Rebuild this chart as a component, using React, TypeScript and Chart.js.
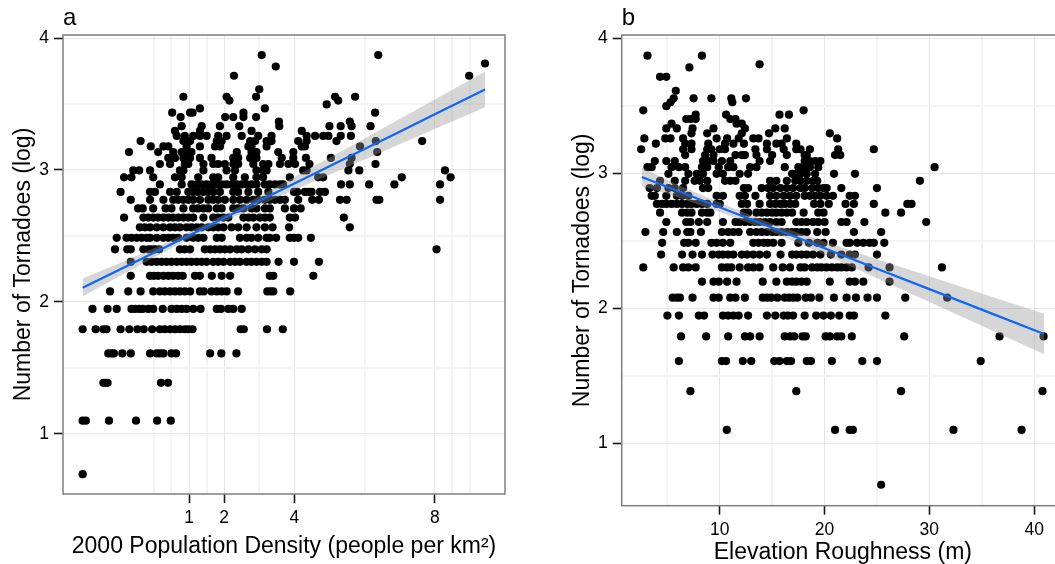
import React, { useEffect, useRef } from 'react'
import { Chart, registerables } from 'chart.js'

Chart.register(...registerables)

const FONT = '"Liberation Sans", Arial, sans-serif'

type Row = [number, number[]]

// panel a: tornado counts are discrete, so the points come in rows of log(count)
const densityRows: Row[] = [
  [0.693, [-2.03]],
  [1.099, [-2.03, -1.94, -1.28, -0.51, 0.09, 0.48]],
  [1.386, [-1.44, -1.37, -1.32, 0.2, 0.4]],
  [1.609, [-1.3, -1.21, -1.14, -0.9, -0.66, -0.11, 0.08, 0.17, 0.27, 0.5, 0.63, 1.6, 1.92, 2.35]],
  [1.792, [-2.03, -1.66, -1.44, -1.35, -0.95, -0.7, -0.47, -0.29, -0.05, 0.17, 0.31, 0.46, 0.6, 0.74, 0.88, 0.98, 1.1, 2.47, 2.56, 3.22, 3.67]],
  [1.946, [-1.75, -1.32, -1.06, -0.64, -0.54, -0.42, -0.32, -0.16, -0.02, 0.25, 0.5, 0.65, 0.79, 0.93, 1.12, 1.33, 1.79, 1.91, 2.12, 2.26, 2.5]],
  [2.079, [-1.25, -0.73, -0.38, -0.02, 0.17, 0.31, 0.46, 0.6, 0.74, 0.88, 1.03, 1.31, 1.42, 1.64, 1.79, 1.93, 2.07, 2.4, 3.23, 3.32, 3.4, 3.88]],
  [2.197, [-0.66, -0.11, 0, 0.12, 0.27, 0.41, 0.55, 0.69, 0.82, 1.17, 1.31, 1.65, 1.93, 2.17, 3.3, 3.4, 4.54]],
  [2.303, [-0.66, -0.21, -0.07, 0.08, 0.22, 0.36, 0.5, 0.65, 0.79, 0.93, 1.07, 1.22, 1.36, 1.5, 1.69, 1.83, 1.98, 2.17, 2.31, 2.45, 2.64, 2.78, 2.92, 3.07, 3.21, 3.55, 3.99, 4.7]],
  [2.398, [-1.11, -0.76, -0.66, -0.3, -0.16, -0.07, 0.03, 0.15, 0.74, 0.88, 1.03, 1.45, 1.6, 1.74, 1.88, 2.02, 2.17, 2.36, 2.5, 2.69, 2.88, 3.07, 3.21, 8.05]],
  [2.485, [-1.06, -0.78, -0.64, -0.49, -0.35, -0.21, -0.11, 0.08, 0.27, 0.41, 0.55, 0.69, 0.93, 1.12, 1.26, 1.41, 1.79, 1.93, 2.45, 2.64, 2.78, 2.97, 3.21, 3.3, 3.48, 3.87, 3.99, 4.11, 4.47]],
  [2.565, [-0.4, -0.26, -0.11, 0.08, 0.27, 0.46, 0.6, 0.74, 0.93, 1.07, 1.22, 1.36, 1.55, 1.69, 1.83, 1.98, 2.21, 2.4, 2.64, 2.92, 3.16, 3.38, 3.85, 5.58]],
  [2.639, [-0.85, -0.3, -0.16, -0.02, 0.12, 0.27, 0.41, 0.55, 0.69, 0.84, 0.98, 1.12, 1.41, 1.69, 1.83, 1.98, 2.12, 2.55, 2.69, 2.83, 3.02, 3.16, 3.3, 3.87, 4.02, 5.41]],
  [2.708, [-0.45, -0.32, -0.02, 0.33, 0.5, 0.84, 1.12, 1.26, 1.41, 1.55, 1.79, 1.93, 2.26, 2.4, 2.55, 2.78, 2.92, 3.16, 3.3, 3.73, 3.99, 4.18]],
  [2.773, [-0.66, -0.11, 0.27, 0.55, 0.69, 0.84, 0.98, 1.12, 1.31, 1.55, 1.69, 1.83, 2.02, 2.26, 2.45, 2.64, 2.83, 2.97, 3.16, 3.3, 3.45, 3.59, 3.73, 4.11, 4.51, 4.7, 5.3, 5.49, 6.34, 6.42, 8.15]],
  [2.833, [-0.95, -0.11, 0.03, 0.46, 0.65, 0.98, 1.12, 1.26, 1.41, 1.55, 1.69, 1.88, 2.26, 2.4, 2.69, 2.97, 3.26, 3.99, 4.08, 4.3, 4.4, 4.49, 4.73, 4.87]],
  [2.89, [0.17, 0.79, 1.07, 1.22, 1.36, 1.5, 1.64, 1.79, 1.93, 2.07, 2.21, 2.36, 2.5, 2.64, 2.78, 2.92, 3.16, 3.3, 3.45, 3.59, 3.68, 5.33, 5.58, 6.13, 6.85, 8.15]],
  [2.944, [-0.85, -0.64, -0.02, 0.6, 0.79, 1.26, 1.69, 1.83, 2.26, 2.59, 2.92, 3.11, 3.87, 4.68, 4.82, 7.06, 8.45]],
  [2.996, [-0.59, -0.42, -0.11, 0.74, 0.84, 1.41, 2.07, 2.31, 2.92, 3.11, 3.21, 4.25, 4.35, 5.54, 5.85, 8.29]],
  [3.045, [0.17, 0.46, 0.88, 0.98, 1.41, 1.69, 1.83, 2.02, 2.26, 2.4, 2.83, 3.11, 3.26, 3.59, 3.83, 4.02, 4.43, 5.58, 6.31]],
  [3.091, [0.41, 0.6, 0.84, 1.03, 1.31, 1.64, 2.26, 2.4, 2.74, 2.92, 3.64, 3.97, 4.33, 5.04, 5.63]],
  [3.135, [-0.71, 0.12, 0.55, 0.79, 0.93, 1.07, 2.36, 2.78, 2.92, 3.54, 3.97, 6.36]],
  [3.178, [-0.09, 0.27, 0.41, 0.93, 1.31, 1.74, 1.88, 2.69, 2.78, 3.21, 4.21, 4.3, 5.87]],
  [3.219, [-0.38, 0.84, 1.03, 1.79, 1.93, 2.74, 2.88, 3.21, 3.35, 4.11, 4.35, 5.2, 6.32, 7.64]],
  [3.258, [0.65, 0.88, 1.12, 1.31, 1.5, 1.83, 2.07, 2.5, 2.97, 3.35, 4.35, 4.59, 4.82, 4.97, 5.32, 5.61]],
  [3.296, [0.6, 1.31, 2.78, 4.21]],
  [3.332, [0.79, 1.36, 1.88, 2.43, 3.57, 5.0, 5.32, 5.63, 6.17]],
  [3.367, [3.56, 5.58]],
  [3.401, [0.76, 2.03, 2.26, 2.55, 2.91]],
  [3.434, [0.52, 1.03, 1.1, 2.55, 6.3]],
  [3.466, [1.31, 3.16]],
  [3.497, [4.92]],
  [3.526, [2.15, 5.25]],
  [3.555, [0.84, 2.07, 2.91, 5.16, 5.73]],
  [3.611, [3.0]],
  [3.714, [2.28, 8.98]],
  [3.784, [3.47]],
  [3.807, [9.43]],
  [3.871, [3.07, 6.39]],
]

const densityFitX = [-2.03, -1, 0, 1, 2, 3, 4, 5, 6, 7, 8, 9.43]
const densityFitY = [2.106, 2.241, 2.372, 2.503, 2.635, 2.766, 2.897, 3.028, 3.159, 3.29, 3.422, 3.61]
const densityFitHigh = [2.176, 2.29, 2.407, 2.529, 2.661, 2.801, 2.946, 3.092, 3.239, 3.386, 3.534, 3.745]
const densityFitLow = [2.04, 2.192, 2.337, 2.477, 2.609, 2.731, 2.848, 2.964, 3.079, 3.194, 3.31, 3.475]

// panel b
const roughnessRows: Row[] = [
  [0.693, [25.4]],
  [1.099, [10.67, 21.0, 22.4, 22.7, 32.3, 38.8]],
  [1.386, [7.2, 17.3, 27.3, 40.8]],
  [1.609, [6.1, 10.2, 10.6, 12.2, 13.0, 15.2, 15.7, 16.4, 16.8, 18.3, 18.7, 20.7, 23.6, 25.0, 34.9]],
  [1.792, [6.3, 8.7, 10.8, 12.4, 12.9, 13.8, 16.2, 16.7, 17.1, 17.9, 18.2, 20.1, 20.5, 21.2, 21.6, 22.6, 27.6, 36.7, 40.9]],
  [1.946, [5.0, 6.1, 8.0, 8.5, 10.3, 10.8, 11.3, 11.8, 12.7, 14.5, 15.3, 16.1, 16.5, 17.0, 18.1, 19.2, 19.9, 20.6, 21.4, 22.4, 22.8, 25.8]],
  [2.079, [5.5, 5.9, 6.2, 7.4, 9.4, 9.9, 11.0, 11.5, 12.4, 14.1, 14.5, 14.9, 15.5, 16.2, 16.6, 17.0, 17.4, 18.2, 18.7, 19.5, 20.9, 22.1, 23.0, 24.1, 25.0, 27.7, 31.7]],
  [2.197, [8.3, 9.4, 9.9, 10.7, 11.6, 14.1, 15.4, 16.4, 16.9, 17.3, 17.8, 18.3, 20.5, 22.4, 22.9, 23.7, 26.2]],
  [2.303, [2.7, 5.6, 6.5, 7.0, 7.7, 10.2, 10.7, 11.1, 11.9, 12.7, 13.2, 13.8, 15.1, 16.0, 16.7, 17.7, 18.1, 18.8, 19.3, 19.7, 20.2, 20.7, 21.2, 21.6, 22.1, 22.6, 24.2, 26.2, 31.2]],
  [2.398, [4.4, 6.4, 7.4, 8.3, 9.3, 9.9, 10.3, 10.8, 11.3, 12.1, 12.6, 13.2, 13.8, 14.5, 15.8, 16.9, 17.3, 17.8, 18.3, 18.9, 19.6, 20.6, 21.6, 22.4, 22.9, 25.0]],
  [2.485, [4.5, 6.6, 7.0, 7.7, 9.2, 9.7, 10.3, 11.0, 13.2, 13.7, 14.2, 14.6, 15.1, 15.9, 17.5, 18.5, 19.3, 19.9, 20.8, 22.1, 22.4, 23.1, 23.7, 24.3, 24.7, 25.7]],
  [2.565, [2.9, 4.6, 5.9, 6.9, 7.2, 8.2, 10.2, 10.8, 11.3, 11.8, 12.9, 13.5, 14.0, 14.5, 15.0, 15.4, 15.9, 16.4, 16.9, 17.3, 17.8, 18.3, 19.3, 20.1, 22.8, 25.4]],
  [2.639, [4.9, 6.8, 7.2, 8.0, 8.8, 10.3, 11.5, 11.9, 12.4, 12.9, 13.4, 13.8, 14.3, 14.8, 15.4, 15.9, 17.3, 17.8, 18.3, 18.9, 19.4, 20.0, 21.6, 22.1, 23.8, 29.7]],
  [2.708, [4.3, 6.4, 6.9, 7.3, 8.3, 8.8, 9.1, 12.3, 12.7, 13.5, 14.0, 14.5, 15.0, 15.4, 15.9, 16.4, 16.9, 18.0, 19.4, 19.9, 22.4, 25.8, 27.3]],
  [2.773, [4.0, 4.5, 4.9, 5.4, 5.9, 6.4, 6.9, 7.3, 7.8, 8.3, 8.8, 9.7, 10.0, 12.1, 12.6, 13.8, 14.8, 15.3, 15.8, 16.2, 16.7, 17.2, 19.0, 19.6, 20.4, 22.0, 22.8, 24.7, 27.9, 28.3]],
  [2.833, [3.5, 3.8, 4.9, 5.9, 6.4, 7.0, 9.7, 10.3, 11.9, 12.4, 13.4, 14.8, 15.4, 16.1, 16.7, 17.3, 18.1, 18.6, 19.1, 19.6, 20.2, 20.8, 22.4, 22.9]],
  [2.89, [3.3, 4.0, 5.1, 5.7, 6.5, 8.4, 8.9, 12.3, 12.7, 14.0, 14.6, 15.1, 15.8, 16.4, 17.0, 17.7, 18.1, 18.8, 19.4, 19.9, 20.2, 21.6, 25.0]],
  [2.944, [4.3, 5.7, 6.7, 7.6, 8.1, 8.8, 10.5, 11.0, 11.5, 14.8, 15.4, 16.4, 17.2, 17.7, 18.3, 18.9, 19.3, 29.1]],
  [2.996, [5.1, 7.0, 7.8, 8.4, 9.7, 10.3, 11.9, 12.7, 16.9, 17.3, 17.7, 18.3, 19.1, 20.9, 22.9]],
  [3.045, [3.1, 3.5, 5.4, 6.1, 6.7, 8.3, 8.8, 9.9, 10.8, 11.3, 12.9, 13.5, 16.2, 17.5, 18.0, 18.6, 19.4, 30.5]],
  [3.091, [3.8, 4.9, 5.7, 8.4, 8.9, 9.4, 10.2, 11.0, 13.8, 14.8, 18.1, 18.6, 19.1, 19.6]],
  [3.135, [6.7, 8.6, 9.4, 11.5, 12.1, 12.4, 13.5, 15.0, 16.4, 18.1, 18.3, 21.0, 21.5]],
  [3.178, [2.5, 6.5, 7.3, 8.8, 9.2, 10.0, 10.5, 13.4, 14.5, 16.1, 17.3, 17.7, 18.6, 21.3, 24.7]],
  [3.219, [3.9, 6.7, 7.3, 8.9, 10.5, 11.3, 12.3, 14.5, 15.4, 15.9, 17.3]],
  [3.258, [2.8, 4.8, 5.3, 6.5, 9.7, 10.7, 11.8, 13.2, 13.7, 16.4, 21.2]],
  [3.296, [7.3, 8.8, 12.1, 14.7, 20.5]],
  [3.332, [4.9, 5.9, 7.4, 9.4, 12.4, 15.3, 16.2]],
  [3.367, [5.4, 11.6, 12.1]],
  [3.401, [6.8, 7.2, 7.7, 11.0, 11.5]],
  [3.434, [7.7, 10.6, 15.7, 16.6]],
  [3.466, [2.7, 18.0]],
  [3.497, [4.9]],
  [3.526, [5.3, 11.2]],
  [3.555, [5.6, 7.5, 9.2, 11.1, 12.5]],
  [3.611, [5.8]],
  [3.714, [4.3, 4.9]],
  [3.784, [7.1]],
  [3.807, [13.8]],
  [3.871, [3.1, 8.3]],
]

const roughnessFitX = [2.56, 5, 10, 15, 20, 25, 30, 35, 40.95]
const roughnessFitY = [2.973, 2.899, 2.748, 2.596, 2.445, 2.293, 2.142, 1.99, 1.81]
const roughnessFitHigh = [3.043, 2.949, 2.782, 2.627, 2.492, 2.363, 2.237, 2.11, 1.96]
const roughnessFitLow = [2.903, 2.849, 2.714, 2.565, 2.398, 2.223, 2.047, 1.87, 1.66]

const yMajor = [1, 2, 3, 4]
const yMinor = [1.5, 2.5, 3.5]
const densityMajor = [1, 2, 4, 8]
const densityMinor = [0, 0.5, 1.5, 3, 6, 8.5, 9]
const roughnessMajor = [10, 20, 30, 40]
const roughnessMinor = [5, 15, 25, 35]

// theme_bw style border, drawn over the marks
const panelBorder = {
  id: 'panelBorder',
  afterDatasetsDraw(chart: any) {
    const { ctx, chartArea: a } = chart
    ctx.save()
    ctx.strokeStyle = '#7f7f7f'
    ctx.lineWidth = 1.5
    ctx.strokeRect(a.left, a.top, a.right - a.left, a.bottom - a.top)
    ctx.restore()
  },
}

function toPoints(xs: number[], ys: number[]) {
  return xs.map((x, i) => ({ x, y: ys[i] }))
}

function axisGrid(major: number[]) {
  return {
    color: (c: any) => (major.includes(c.tick?.value) ? '#e6e6e6' : '#f4f4f4'),
    lineWidth: (c: any) => (major.includes(c.tick?.value) ? 1 : 2),
    tickColor: (c: any) => (major.includes(c.tick?.value) ? '#1a1a1a' : 'rgba(0,0,0,0)'),
    tickWidth: 1.6,
    tickLength: 9,
  }
}

interface PanelConfig {
  letter: string
  rows: Row[]
  fitX: number[]
  fitY: number[]
  fitHigh: number[]
  fitLow: number[]
  xLabel: string
  xMin: number
  xMax: number
  yMin: number
  yMax: number
  xMajor: number[]
  xMinor: number[]
  yAxisWidth: number
  xAxisHeight: number
  paddingRight: number
  yTitlePadding: number
  xTitlePadding: number
}

function buildChart(canvas: HTMLCanvasElement, p: PanelConfig) {
  const points = p.rows.flatMap(([y, xs]) => xs.map(x => ({ x, y })))
  return new Chart(canvas, {
    type: 'scatter',
    plugins: [panelBorder],
    data: {
      datasets: [
        {
          data: points,
          order: 3,
          backgroundColor: '#000',
          pointRadius: 4.1,
          pointBorderWidth: 0,
          pointHoverRadius: 4.1,
        },
        {
          data: toPoints(p.fitX, p.fitHigh),
          order: 2,
          showLine: true,
          pointRadius: 0,
          borderWidth: 0,
          borderColor: 'rgba(0,0,0,0)',
          backgroundColor: 'rgba(153,153,153,0.4)',
          fill: '+1',
        },
        {
          data: toPoints(p.fitX, p.fitLow),
          order: 2,
          showLine: true,
          pointRadius: 0,
          borderWidth: 0,
          borderColor: 'rgba(0,0,0,0)',
        },
        {
          data: toPoints(p.fitX, p.fitY),
          order: 1,
          showLine: true,
          pointRadius: 0,
          borderWidth: 2.2,
          borderColor: '#1066f5',
        },
      ],
    } as any,
    options: {
      responsive: false,
      animation: false,
      layout: { padding: { right: p.paddingRight, top: 0, bottom: 0, left: 0 } },
      plugins: {
        legend: { display: false },
        tooltip: { enabled: false },
        title: {
          display: true,
          text: p.letter,
          align: 'start',
          fullSize: false,
          color: '#000',
          font: { family: FONT, size: 24, weight: 'normal', lineHeight: 1.2 },
          padding: { top: 4, bottom: 2.2 },
        },
      },
      scales: {
        x: {
          type: 'linear',
          min: p.xMin,
          max: p.xMax,
          afterBuildTicks: (s: any) => {
            s.ticks = [...p.xMinor, ...p.xMajor].sort((a, b) => a - b).map(value => ({ value }))
          },
          afterFit: (s: any) => {
            s.height = p.xAxisHeight
          },
          border: { display: false },
          grid: axisGrid(p.xMajor),
          ticks: {
            autoSkip: false,
            maxRotation: 0,
            padding: 5,
            color: '#000',
            font: { family: FONT, size: 17.5 },
            callback: (v: any) => (p.xMajor.includes(v) ? String(v) : ''),
          },
          title: {
            display: true,
            text: p.xLabel,
            color: '#000',
            font: { family: FONT, size: 23 },
            padding: { top: 0, bottom: p.xTitlePadding },
          },
        },
        y: {
          type: 'linear',
          min: p.yMin,
          max: p.yMax,
          afterBuildTicks: (s: any) => {
            s.ticks = [...yMinor, ...yMajor].sort((a, b) => a - b).map(value => ({ value }))
          },
          afterFit: (s: any) => {
            s.width = p.yAxisWidth
          },
          border: { display: false },
          grid: axisGrid(yMajor),
          ticks: {
            autoSkip: false,
            padding: 5,
            color: '#000',
            font: { family: FONT, size: 17.5 },
            callback: (v: any) => (yMajor.includes(v) ? String(v) : ''),
          },
          title: {
            display: true,
            text: 'Number of Tornadoes (log)',
            color: '#000',
            font: { family: FONT, size: 23 },
            padding: { top: p.yTitlePadding, bottom: 0 },
          },
        },
      },
    } as any,
  })
}

const panelA: PanelConfig = {
  letter: 'a',
  rows: densityRows,
  fitX: densityFitX,
  fitY: densityFitY,
  fitHigh: densityFitHigh,
  fitLow: densityFitLow,
  xLabel: '2000 Population Density (people per km²)',
  xMin: -2.59,
  xMax: 10,
  yMin: 0.543,
  yMax: 4.023,
  xMajor: densityMajor,
  xMinor: densityMinor,
  yAxisWidth: 63,
  xAxisHeight: 70,
  paddingRight: 15,
  yTitlePadding: 9.7,
  xTitlePadding: 3.2,
}

const panelB: PanelConfig = {
  letter: 'b',
  rows: roughnessRows,
  fitX: roughnessFitX,
  fitY: roughnessFitY,
  fitHigh: roughnessFitHigh,
  fitLow: roughnessFitLow,
  xLabel: 'Elevation Roughness (m)',
  xMin: 0.64,
  xMax: 42.85,
  yMin: 0.538,
  yMax: 4.024,
  xMajor: roughnessMajor,
  xMinor: roughnessMinor,
  yAxisWidth: 91.7,
  xAxisHeight: 58.3,
  paddingRight: 5,
  yTitlePadding: 38.7,
  xTitlePadding: -2,
}

export default function App() {
  const leftRef = useRef<HTMLCanvasElement>(null)
  const rightRef = useRef<HTMLCanvasElement>(null)

  useEffect(() => {
    const left = buildChart(leftRef.current!, panelA)
    const right = buildChart(rightRef.current!, panelB)
    return () => {
      left.destroy()
      right.destroy()
    }
  }, [])

  // the right panel runs past the page edge in the original, so it gets clipped here too
  return (
    <div style={{ position: 'fixed', left: 0, top: 0, width: 1055, height: 564, overflow: 'hidden', background: '#fff' }}>
      <canvas ref={leftRef} width={520} height={564} style={{ position: 'absolute', left: 0, top: 0 }} />
      <canvas ref={rightRef} width={539} height={564} style={{ position: 'absolute', left: 530, top: 0 }} />
    </div>
  )
}
